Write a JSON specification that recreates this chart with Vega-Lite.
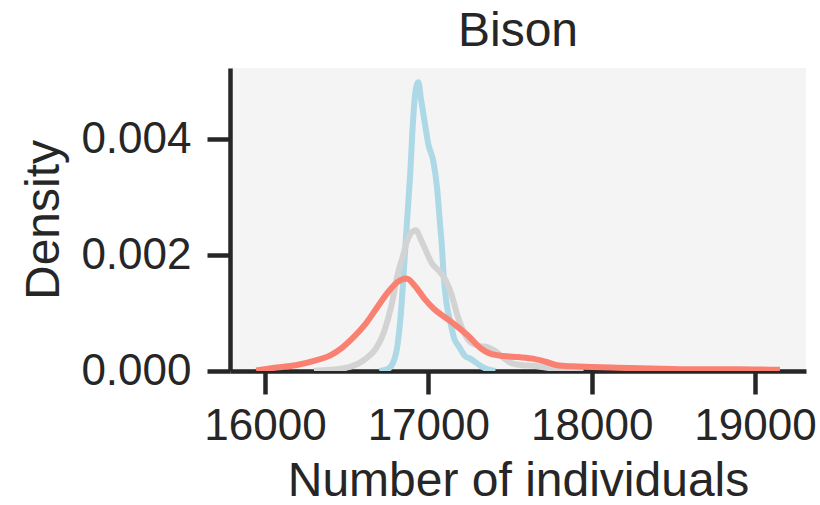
{
  "$schema": "https://vega.github.io/schema/vega-lite/v6.json",
  "autosize": {"type": "none"},
  "padding": {"left": 230, "top": 68, "right": 14, "bottom": 134},
  "width": 576,
  "height": 303,
  "background": "white",
  "title": {
    "text": "Bison",
    "fontSize": 48,
    "font": "Liberation Sans",
    "fontWeight": "normal",
    "color": "#262626",
    "anchor": "middle",
    "offset": 12
  },
  "data": {
    "values": [
      {"s": "b", "x": 16700, "y": 0},
      {"s": "b", "x": 16750, "y": 0.00003},
      {"s": "b", "x": 16788, "y": 0.00017},
      {"s": "b", "x": 16812, "y": 0.00046},
      {"s": "b", "x": 16835, "y": 0.0011},
      {"s": "b", "x": 16847, "y": 0.0016},
      {"s": "b", "x": 16870, "y": 0.0026},
      {"s": "b", "x": 16888, "y": 0.00335},
      {"s": "b", "x": 16906, "y": 0.0043},
      {"s": "b", "x": 16920, "y": 0.0048},
      {"s": "b", "x": 16939, "y": 0.00499},
      {"s": "b", "x": 16955, "y": 0.0047},
      {"s": "b", "x": 16972, "y": 0.0044},
      {"s": "b", "x": 17000, "y": 0.00392},
      {"s": "b", "x": 17031, "y": 0.00362},
      {"s": "b", "x": 17054, "y": 0.00315},
      {"s": "b", "x": 17070, "y": 0.0026},
      {"s": "b", "x": 17082, "y": 0.0022},
      {"s": "b", "x": 17094, "y": 0.00165},
      {"s": "b", "x": 17110, "y": 0.0012},
      {"s": "b", "x": 17133, "y": 0.00087},
      {"s": "b", "x": 17160, "y": 0.00055},
      {"s": "b", "x": 17188, "y": 0.00042},
      {"s": "b", "x": 17224, "y": 0.00026},
      {"s": "b", "x": 17259, "y": 0.00021},
      {"s": "b", "x": 17294, "y": 0.00014},
      {"s": "b", "x": 17330, "y": 0.00007},
      {"s": "b", "x": 17365, "y": 0.00003},
      {"s": "b", "x": 17410, "y": 0},
      {"s": "g", "x": 16300, "y": 0},
      {"s": "g", "x": 16400, "y": 0.00002},
      {"s": "g", "x": 16520, "y": 0.00007},
      {"s": "g", "x": 16612, "y": 0.0002},
      {"s": "g", "x": 16682, "y": 0.0004},
      {"s": "g", "x": 16729, "y": 0.00068},
      {"s": "g", "x": 16776, "y": 0.00115},
      {"s": "g", "x": 16812, "y": 0.00167},
      {"s": "g", "x": 16842, "y": 0.00196},
      {"s": "g", "x": 16871, "y": 0.00225},
      {"s": "g", "x": 16900, "y": 0.0024},
      {"s": "g", "x": 16925, "y": 0.00243},
      {"s": "g", "x": 16953, "y": 0.00228},
      {"s": "g", "x": 16988, "y": 0.00206},
      {"s": "g", "x": 17024, "y": 0.00185},
      {"s": "g", "x": 17055, "y": 0.00176},
      {"s": "g", "x": 17106, "y": 0.00157},
      {"s": "g", "x": 17141, "y": 0.00133},
      {"s": "g", "x": 17176, "y": 0.00098},
      {"s": "g", "x": 17224, "y": 0.00063},
      {"s": "g", "x": 17271, "y": 0.00047},
      {"s": "g", "x": 17318, "y": 0.00043},
      {"s": "g", "x": 17365, "y": 0.00041},
      {"s": "g", "x": 17412, "y": 0.00034},
      {"s": "g", "x": 17459, "y": 0.00023},
      {"s": "g", "x": 17506, "y": 0.00014},
      {"s": "g", "x": 17576, "y": 0.0001},
      {"s": "g", "x": 17647, "y": 0.00009},
      {"s": "g", "x": 17718, "y": 0.00006},
      {"s": "g", "x": 17788, "y": 0.00003},
      {"s": "g", "x": 17850, "y": 0.00001},
      {"s": "g", "x": 17950, "y": 0},
      {"s": "r", "x": 15946, "y": 0.00001},
      {"s": "r", "x": 16071, "y": 0.00006},
      {"s": "r", "x": 16188, "y": 0.0001},
      {"s": "r", "x": 16306, "y": 0.00018},
      {"s": "r", "x": 16400, "y": 0.00027},
      {"s": "r", "x": 16471, "y": 0.0004},
      {"s": "r", "x": 16541, "y": 0.00058},
      {"s": "r", "x": 16612, "y": 0.0008},
      {"s": "r", "x": 16682, "y": 0.00108},
      {"s": "r", "x": 16753, "y": 0.00136},
      {"s": "r", "x": 16812, "y": 0.00154},
      {"s": "r", "x": 16866, "y": 0.0016},
      {"s": "r", "x": 16918, "y": 0.00147},
      {"s": "r", "x": 16976, "y": 0.00125},
      {"s": "r", "x": 17035, "y": 0.00107},
      {"s": "r", "x": 17106, "y": 0.00092},
      {"s": "r", "x": 17176, "y": 0.00077},
      {"s": "r", "x": 17247, "y": 0.0006},
      {"s": "r", "x": 17318, "y": 0.0004},
      {"s": "r", "x": 17388, "y": 0.00029},
      {"s": "r", "x": 17459, "y": 0.00026},
      {"s": "r", "x": 17553, "y": 0.00024},
      {"s": "r", "x": 17647, "y": 0.00021},
      {"s": "r", "x": 17718, "y": 0.00016},
      {"s": "r", "x": 17788, "y": 0.0001},
      {"s": "r", "x": 17882, "y": 0.00008},
      {"s": "r", "x": 18000, "y": 0.00007},
      {"s": "r", "x": 18118, "y": 0.00006},
      {"s": "r", "x": 18235, "y": 0.00005},
      {"s": "r", "x": 18424, "y": 0.00004},
      {"s": "r", "x": 18659, "y": 0.00003},
      {"s": "r", "x": 18894, "y": 0.00003},
      {"s": "r", "x": 19152, "y": 0.00002}
    ]
  },
  "mark": {"type": "line", "strokeWidth": 6, "interpolate": "monotone", "clip": true},
  "encoding": {
    "x": {
      "field": "x",
      "type": "quantitative",
      "scale": {"domain": [15786, 19312], "nice": false, "zero": false},
      "axis": {"values": [16000, 17000, 18000, 19000], "format": "d", "title": "Number of individuals", "labelPadding": 10, "titlePadding": 9}
    },
    "y": {
      "field": "y",
      "type": "quantitative",
      "scale": {"domain": [0, 0.005234], "nice": false, "zero": true},
      "axis": {"values": [0, 0.002, 0.004], "format": ".3f", "title": "Density", "labelPadding": 16, "titlePadding": 12}
    },
    "color": {
      "field": "s",
      "type": "nominal",
      "scale": {"domain": ["b", "g", "r"], "range": ["#add8e6", "#d3d3d3", "#fa8072"]},
      "legend": null
    }
  },
  "config": {
    "view": {"fill": "#f4f4f4", "stroke": null},
    "axis": {
      "grid": false,
      "domainColor": "#262626",
      "domainWidth": 4.5,
      "tickColor": "#262626",
      "tickWidth": 4.5,
      "tickSize": 23,
      "labelFont": "Liberation Sans",
      "labelFontSize": 44,
      "labelColor": "#262626",
      "titleFont": "Liberation Sans",
      "titleFontSize": 48,
      "titleFontWeight": "normal",
      "titleColor": "#262626",
      "labelOverlap": false,
      "labelFlush": false
    }
  }
}
